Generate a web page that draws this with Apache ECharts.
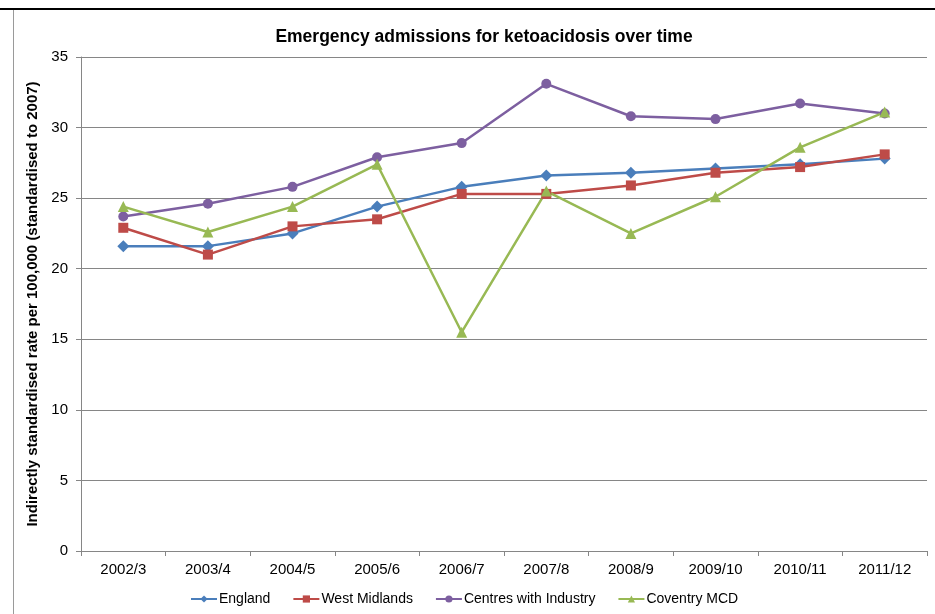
<!DOCTYPE html>
<html>
<head>
<meta charset="utf-8">
<script src="https://cdn.jsdelivr.net/npm/echarts@6/dist/echarts.min.js"></script>
<style>
  html, body { margin: 0; padding: 0; background: #fff; }
  #chart { width: 935px; height: 614px; }
</style>
</head>
<body>
<div id="chart"></div>
<script>
const years = ['2002/3', '2003/4', '2004/5', '2005/6', '2006/7', '2007/8', '2008/9', '2009/10', '2010/11', '2011/12']
const england = [21.6, 21.6, 22.5, 24.4, 25.8, 26.6, 26.8, 27.1, 27.4, 27.8]
const westMidlands = [22.9, 21.0, 23.0, 23.5, 25.3, 25.3, 25.9, 26.8, 27.2, 28.1]
const centresWithIndustry = [23.7, 24.6, 25.8, 27.9, 28.9, 33.1, 30.8, 30.6, 31.7, 31.0]
const coventryMCD = [24.4, 22.6, 24.4, 27.4, 15.5, 25.5, 22.5, 25.1, 28.6, 31.1]

const font = 'Arial, "Liberation Sans", sans-serif'

function line (name, data, color, symbol, size) {
  return {
    name: name,
    type: 'line',
    data: data,
    color: color,
    symbol: symbol,
    symbolSize: size,
    lineStyle: { width: 2.5, color: color },
    itemStyle: { color: color },
    emphasis: { disabled: true }
  }
}

const chart = echarts.init(document.getElementById('chart'))
chart.setOption({
  animation: false,
  backgroundColor: '#fff',
  title: {
    text: 'Emergency admissions for ketoacidosis over time',
    left: 479,
    textAlign: 'center',
    top: 23,
    textStyle: { fontFamily: font, fontSize: 17.5, fontWeight: 'bold', color: '#000' }
  },
  graphic: [
    { type: 'line', shape: { x1: 0, y1: 9, x2: 935, y2: 9 }, style: { stroke: '#000', lineWidth: 2 } },
    { type: 'line', shape: { x1: 13.5, y1: 10, x2: 13.5, y2: 614 }, style: { stroke: '#9a9a9a', lineWidth: 1 } }
  ],
  grid: { left: 81, right: 8, top: 57, bottom: 63 },
  legend: {
    top: 587,
    left: 185,
    itemWidth: 26,
    itemHeight: 9,
    itemGap: 22,
    textStyle: { fontFamily: font, fontSize: 14, color: '#000', padding: [0, 0, 0, -3] },
    data: ['England', 'West Midlands', 'Centres with Industry', 'Coventry MCD']
  },
  xAxis: {
    type: 'category',
    data: years,
    boundaryGap: true,
    axisLine: { lineStyle: { color: '#868686', width: 1 } },
    axisTick: { show: true, length: 5, lineStyle: { color: '#868686' } },
    axisLabel: { fontFamily: font, fontSize: 15, color: '#000', margin: 11 }
  },
  yAxis: {
    type: 'value',
    min: 0,
    max: 35,
    interval: 5,
    name: 'Indirectly standardised rate per 100,000 (standardised to 2007)',
    nameLocation: 'middle',
    nameGap: 33,
    nameRotate: 90,
    nameTextStyle: { fontFamily: font, fontSize: 15, fontWeight: 'bold', color: '#000' },
    axisLine: { show: true, lineStyle: { color: '#868686', width: 1 } },
    axisTick: { show: true, length: 5, lineStyle: { color: '#868686' } },
    axisLabel: { fontFamily: font, fontSize: 15, color: '#000', margin: 13 },
    splitLine: { show: true, lineStyle: { color: '#868686', width: 1 } }
  },
  series: [
    line('England', england, '#4a7ebb', 'diamond', 12),
    line('West Midlands', westMidlands, '#be4b48', 'rect', 10),
    line('Centres with Industry', centresWithIndustry, '#7d5fa0', 'circle', 10),
    line('Coventry MCD', coventryMCD, '#98b954', 'triangle', 11)
  ]
})
</script>
</body>
</html>
